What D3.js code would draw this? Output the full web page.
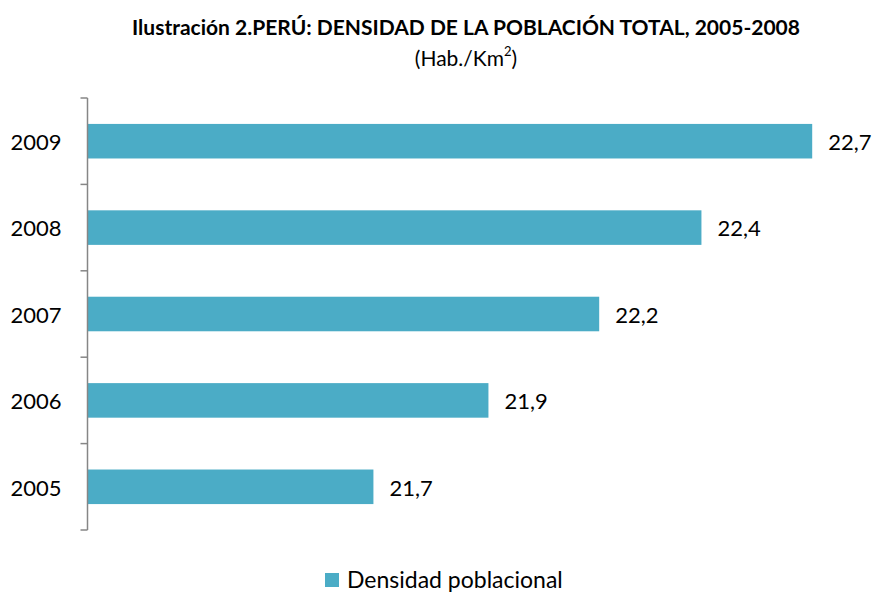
<!DOCTYPE html>
<html><head><meta charset="utf-8">
<script src="https://cdn.jsdelivr.net/npm/d3@7"></script>
<style>body{margin:0;background:#fff}svg{display:block}</style>
</head><body><svg id="c" width="875" height="592"></svg>
<script>
const years = ["2005","2006","2007","2008","2009"];
const density = [21.67, 21.94, 22.20, 22.44, 22.70];
const xDomain = [21, 23];
const titleText = "Ilustración 2.PERÚ: DENSIDAD DE LA POBLACIÓN TOTAL, 2005-2008";
const legendLabel = "Densidad poblacional";

(function(){
const svg = d3.select("#c");
const font = "Lato, 'Open Sans', sans-serif";
const barColor = "#4BACC6";
const axisX = 87.5, plotTop = 98, plotBottom = 530;

const x = d3.scaleLinear().domain(xDomain).range([88, 940]);
const y = d3.scaleBand().domain(years.slice().reverse()).range([plotTop, plotBottom]).paddingInner(0.6).paddingOuter(0.3);
const fmt = v => d3.format(".1f")(v).replace(".", ",");

// title
svg.append("text").attr("x", 466).attr("y", 35).attr("text-anchor","middle")
  .attr("font-family", font).attr("font-weight","bold").attr("font-size",21).attr("fill","#000")
  .text(titleText);
const sub = svg.append("text").attr("x", 466).attr("y", 66).attr("text-anchor","middle")
  .attr("font-family", font).attr("font-size",21).attr("fill","#000");
sub.append("tspan").text("(Hab./Km");
sub.append("tspan").attr("font-size",13).attr("dy",-10).text("2");
sub.append("tspan").attr("dy",10).text(")");

// bars
const data = years.map((yr,i)=>({yr, v: density[i]}));
svg.append("g").selectAll("rect").data(data).join("rect")
  .attr("x", x(xDomain[0])).attr("y", d=>y(d.yr))
  .attr("width", d=>x(d.v)-x(xDomain[0])).attr("height", y.bandwidth())
  .attr("fill", barColor);

// value labels
svg.append("g").selectAll("text").data(data).join("text")
  .attr("x", d=>x(d.v)+16).attr("y", d=>y(d.yr)+y.bandwidth()/2)
  .attr("dy","0.4em").attr("font-family", font).attr("font-size",22).attr("fill","#000")
  .text(d=>fmt(d.v));

// axis
const axis = d3.axisLeft(y).tickSize(0).tickPadding(26);
const g = svg.append("g").attr("transform",`translate(${axisX},0)`).call(axis);
g.select(".domain").remove();
g.selectAll("text").attr("font-family", font).attr("font-size",22).attr("fill","#000").attr("dy","0.4em");
g.append("line").attr("x1",0).attr("x2",0).attr("y1",plotTop).attr("y2",plotBottom).attr("stroke","#868686").attr("stroke-width",1.5);
const bounds = y.domain().map(d=>y(d) - (y.step()-y.bandwidth())/2);
bounds.push(plotBottom);
g.selectAll(".bt").data(bounds).join("line").attr("class","bt")
  .attr("x1",-7).attr("x2",0).attr("y1",d=>d).attr("y2",d=>d)
  .attr("stroke","#868686").attr("stroke-width",1.5);

// legend
svg.append("rect").attr("x",325).attr("y",573).attr("width",14).attr("height",14).attr("fill",barColor);
svg.append("text").attr("x",347).attr("y",588).attr("font-family",font).attr("font-size",23).attr("fill","#000").text(legendLabel);
})();
</script></body></html>
